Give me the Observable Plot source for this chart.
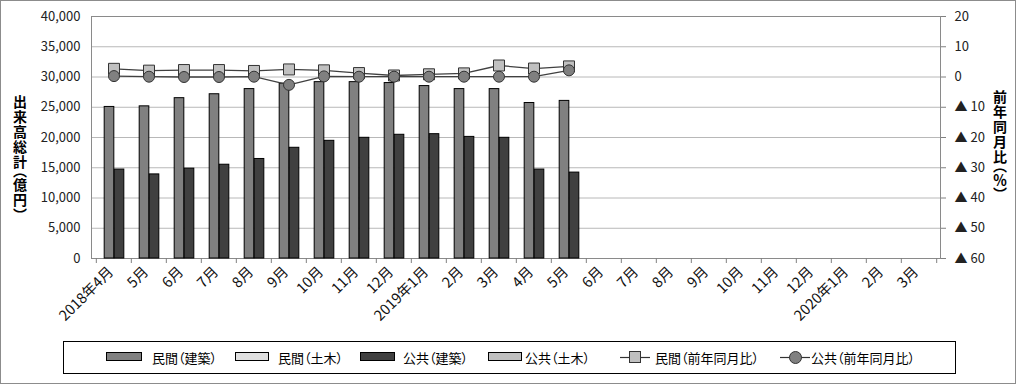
<!DOCTYPE html>
<html><head><meta charset="utf-8">
<script src="https://cdn.jsdelivr.net/npm/d3@7"></script>
<script src="https://cdn.jsdelivr.net/npm/@observablehq/plot@0.6"></script>
<style>
body{margin:0;background:#fff;}
#wrap{position:relative;width:1016px;height:384px;overflow:hidden;font-family:"Noto Sans CJK JP",sans-serif;color:#000;background:#fff;}
#border{position:absolute;left:0;top:0;width:1016px;height:384px;box-sizing:border-box;border:1px solid #8c8c8c;pointer-events:none;}
#chart{position:absolute;left:0;top:0;}
.vt{position:absolute;writing-mode:vertical-rl;font-weight:bold;font-size:14px;line-height:14px;color:#000;font-feature-settings:"vpal";}
#ltitle{left:13px;top:95px;letter-spacing:1px;}
#rtitle{left:993px;top:90px;letter-spacing:1px;}
#legend{position:absolute;left:63px;top:341px;width:893px;height:33px;box-sizing:border-box;border:1px solid #000;}
.li{position:absolute;top:0;height:31px;font-size:13px;line-height:31px;white-space:nowrap;font-feature-settings:"palt";}
.sw{position:absolute;top:10px;height:9px;box-sizing:border-box;border:1px solid #000;}
.mk{position:absolute;top:0;}
</style></head><body>
<div id="wrap">
<div id="chart"></div>
<div class="vt" id="ltitle">出来高総計（億円）</div>
<div class="vt" id="rtitle">前年同月比（％）</div>
<div id="legend"></div>
<div id="border"></div>
</div>
<script>
// ---- data ----
const months = ["2018年4月","5月","6月","7月","8月","9月","10月","11月","12月","2019年1月","2月","3月","4月","5月","6月","7月","8月","9月","10月","11月","12月","2020年1月","2月","3月"];
const minkanKenchiku = [25050,25150,26500,27150,28000,28900,29150,29150,29000,28500,28000,28000,25700,26050];
const minkanDoboku = [];
const koukyouKenchiku = [14700,13900,14850,15500,16450,18300,19450,19950,20450,20550,20100,19950,14700,14200];
const koukyouDoboku = [];
const minkanYoY = [2.7,2.1,2.3,2.3,2.0,2.5,2.2,1.3,0.5,0.9,1.2,3.8,2.8,3.5];
const koukyouYoY = [0.3,0.1,0.0,0.0,0.1,-2.6,0.2,0.1,0.1,0.1,0.1,0.1,0.1,2.2];
const leftTicks = [0,5000,10000,15000,20000,25000,30000,35000,40000];
const rightTicks = [-60,-50,-40,-30,-20,-10,0,10,20];
const legendLabels = ["民間（建築）","民間（土木）","公共（建築）","公共（土木）","民間（前年同月比）","公共（前年同月比）"];

// ---- layout ----
const W = 1016, H = 335, mL = 91, mR = 76, mT = 16, mB = 77;
const idx = months.map((m, i) => i); // category keys (labels repeat, so index them)
const bw = (W - mL - mR) / months.length;
const plotH = H - mT - mB;
const toY = v => (v + 60) * 500; // right axis (−60…20) onto left scale (0…40000)
const series = (arr) => arr.map((v, i) => ({k: i, v})).filter(d => d.v != null);

const mk = series(minkanKenchiku), kk = series(koukyouKenchiku);
const my = series(minkanYoY), ky = series(koukyouYoY);
const rfmt = v => v < 0 ? "▲ " + (-v) : String(v);

const chart = Plot.plot({
  width: W, height: H,
  marginLeft: mL, marginRight: mR, marginTop: mT, marginBottom: mB,
  style: {fontFamily: "'Noto Sans CJK JP', sans-serif", fontSize: "13px", color: "#222", background: "transparent"},
  x: {type: "band", domain: idx, padding: 0, axis: null},
  y: {domain: [0, 40000]},
  marks: [
    Plot.ruleY(leftTicks.filter(t => t > 0 && t < 40000), {y: d => d, stroke: "#b8b8b8"}),
    Plot.frame({stroke: "#8a8a8a"}),
    Plot.barY(mk, {x: "k", y: "v", fill: "#808080", stroke: "#000", strokeWidth: 1, insetLeft: bw/2 - 9.5, insetRight: bw/2 - 0.5}),
    Plot.barY(kk, {x: "k", y: "v", fill: "#404040", stroke: "#000", strokeWidth: 1, insetLeft: bw/2 + 0.5, insetRight: bw/2 - 10.5}),
    Plot.line(my, {x: "k", y: d => toY(d.v), stroke: "#404040", strokeWidth: 1.3}),
    Plot.dot(my, {x: "k", y: d => toY(d.v), symbol: "square", r: 6.2, fill: "#c0c0c0", stroke: "#333", strokeWidth: 1}),
    Plot.line(ky, {x: "k", y: d => toY(d.v), stroke: "#404040", strokeWidth: 1.3}),
    Plot.dot(ky, {x: "k", y: d => toY(d.v), r: 5.5, fill: "#808080", stroke: "#333", strokeWidth: 1}),
    Plot.axisY({anchor: "left", ticks: leftTicks, tickSize: 0, tickPadding: 11, tickFormat: d3.format(","), label: null, fontSize: 13}),
    Plot.axisY({anchor: "right", ticks: rightTicks.map(toY), tickFormat: y => rfmt(Math.round(y / 500 - 60)), tickSize: 5, tickPadding: 9, label: null, stroke: "#808080", fontSize: 13}),
    Plot.ruleX(idx, {x: d => d, dx: -bw/2, insetTop: plotH, insetBottom: -5, stroke: "#808080"}),
    Plot.ruleX([idx[idx.length - 1]], {x: d => d, dx: bw/2, insetTop: plotH, insetBottom: -5, stroke: "#808080"}),
    Plot.text(idx, {x: d => d, text: d => months[d], frameAnchor: "bottom", rotate: -45, textAnchor: "end", lineAnchor: "middle", dx: -3, dy: 11, fontSize: 14.5, fill: "#111"})
  ]
});
document.getElementById("chart").appendChild(chart);

// ---- legend ----
const legend = document.getElementById("legend");
const swatchFills = ["#808080", "#e0e0e0", "#404040", "#c0c0c0"];
const swX = [42, 171, 296, 424], swW = [36, 34, 35, 34];
const txtX = [88, 214, 339, 461, 591, 747];
swatchFills.forEach((f, i) => {
  const s = document.createElement("div");
  s.className = "sw"; s.style.left = swX[i] + "px"; s.style.width = swW[i] + "px"; s.style.background = f;
  legend.appendChild(s);
});
const ns = "http://www.w3.org/2000/svg";
[[556, "square", "#c0c0c0"], [716, "circle", "#808080"]].forEach(([x, shape, fill]) => {
  const svg = document.createElementNS(ns, "svg");
  svg.setAttribute("width", 30); svg.setAttribute("height", 31);
  svg.setAttribute("class", "mk"); svg.style.left = x + "px";
  const ln = document.createElementNS(ns, "line");
  ln.setAttribute("x1", 0); ln.setAttribute("x2", 30); ln.setAttribute("y1", 15.5); ln.setAttribute("y2", 15.5);
  ln.setAttribute("stroke", "#333"); ln.setAttribute("stroke-width", 1.2);
  svg.appendChild(ln);
  let m;
  if (shape === "square") {
    m = document.createElementNS(ns, "rect");
    m.setAttribute("x", 9.5); m.setAttribute("y", 9.5); m.setAttribute("width", 11); m.setAttribute("height", 11);
  } else {
    m = document.createElementNS(ns, "circle");
    m.setAttribute("cx", 15.5); m.setAttribute("cy", 15.5); m.setAttribute("r", 6);
  }
  m.setAttribute("fill", fill); m.setAttribute("stroke", "#333");
  svg.appendChild(m);
  legend.appendChild(svg);
});
legendLabels.forEach((t, i) => {
  const d = document.createElement("div");
  d.className = "li"; d.style.left = txtX[i] + "px"; d.textContent = t;
  legend.appendChild(d);
});
</script>
</body></html>
